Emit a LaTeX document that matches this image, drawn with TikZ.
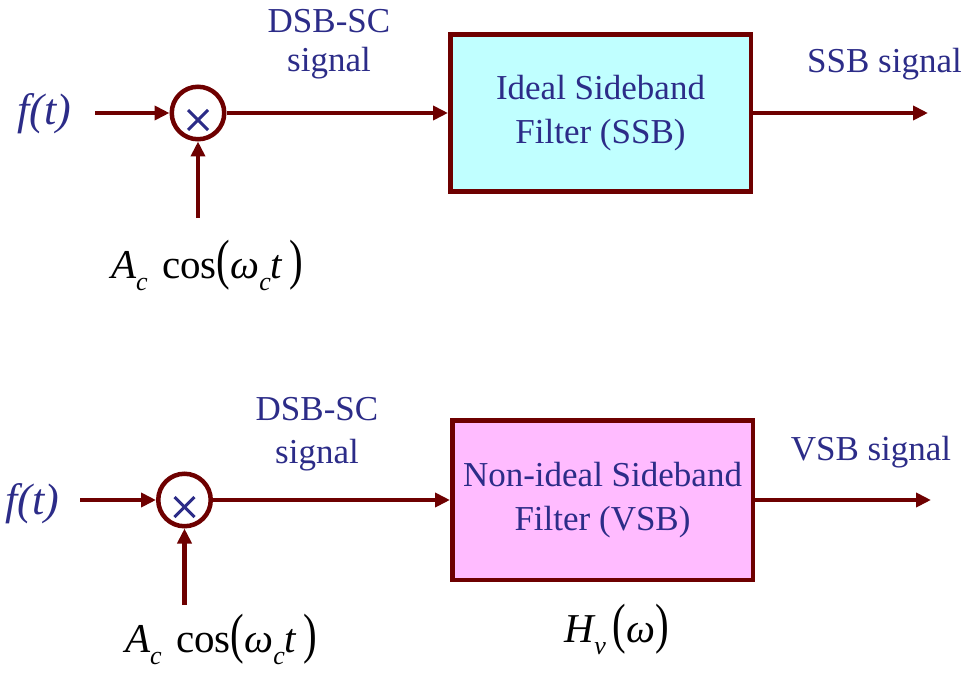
\documentclass[tikz,border=0pt]{standalone}
\usepackage{fontspec}
\setmainfont{Liberation Serif}
\usepackage{graphicx}
\usetikzlibrary{arrows.meta}
\definecolor{txtblue}{RGB}{44,44,136}
\definecolor{linered}{RGB}{110,0,0}
\definecolor{cyanfill}{RGB}{192,255,255}
\definecolor{pinkfill}{RGB}{255,187,255}
\newcommand\msub[1]{\raisebox{-0.3em}{\fontsize{26}{26}\selectfont\itshape #1}}
\newcommand\tallp[1]{\scalebox{1}[1.35]{#1}}
\begin{document}
\begin{tikzpicture}[x=1pt,y=-1pt,
  sig/.style={draw=linered,line width=4.5pt,-{Triangle[length=15pt,width=14pt]}},
  mixer/.style={circle,draw=linered,line width=4.5pt,minimum size=52.5pt,inner sep=0pt,fill=white},
  filterbox/.style={rectangle,draw=linered,line width=4.5pt,minimum width=300.5pt,inner sep=0pt,align=center,
    text=txtblue,font=\fontsize{35}{44}\selectfont},
  lbl/.style={text=txtblue,font=\fontsize{35}{40}\selectfont,inner sep=0pt,anchor=base},
  inlbl/.style={text=txtblue,font=\fontsize{44}{44}\selectfont\itshape,inner sep=0pt,anchor=base},
  mathlbl/.style={text=black,font=\fontsize{41}{41}\selectfont,inner sep=0pt,anchor=base},
  xmark/.style={draw=txtblue,line width=3pt}]
\useasboundingbox (0,0) rectangle (972,682);

% ---------- top row ----------
\node[inlbl] (f1) at (44.5,125) {f(t)};
\coordinate (in1) at (95,113);
\node[mixer] (m1) at (198,113) {};
\draw[xmark] ([shift={(-10,-3)}]m1.center) -- ([shift={(10,17)}]m1.center);
\draw[xmark] ([shift={(-10,17)}]m1.center) -- ([shift={(10,-3)}]m1.center);
\coordinate (c1) at (198,218);
\node[filterbox,fill=cyanfill,minimum height=156.5pt] (b1) at (600.5,113) {Ideal Sideband\\Filter (SSB)};
\coordinate (out1) at (928,113);
\draw[sig] (in1) -- (m1.west);
\draw[sig] (c1) -- (m1.south);
\draw[sig] (m1.east) -- (b1.west);
\draw[sig] (b1.east) -- (out1);
\node[lbl] (d1a) at (329,33) {DSB-SC};
\node[lbl] (d1b) at (329,72) {signal};
\node[lbl] (s1) at (884.5,73) {SSB signal};
\node[mathlbl] (a1) at (207,278) {{\itshape A}\msub{c}\hspace{0.35em}cos\tallp{(}{\itshape ω}\msub{c}{\itshape t}\,\tallp{)}};

% ---------- bottom row ----------
\node[inlbl] (f2) at (32,514) {f(t)};
\coordinate (in2) at (80,500);
\node[mixer] (m2) at (184.5,500) {};
\draw[xmark] ([shift={(-10,-3)}]m2.center) -- ([shift={(10,17)}]m2.center);
\draw[xmark] ([shift={(-10,17)}]m2.center) -- ([shift={(10,-3)}]m2.center);
\coordinate (c2) at (184.5,605);
\node[filterbox,fill=pinkfill,minimum height=159.5pt] (b2) at (602.5,500) {\rule{0pt}{10pt}Non-ideal Sideband\\Filter (VSB)};
\coordinate (out2) at (931,500);
\draw[sig] (in2) -- (m2.west);
\draw[sig] (c2) -- (m2.south);
\draw[sig] (m2.east) -- (b2.west);
\draw[sig] (b2.east) -- (out2);
\node[lbl] (d2a) at (317,420) {DSB-SC};
\node[lbl] (d2b) at (317,463) {signal};
\node[lbl] (s2) at (871,460) {VSB signal};
\node[mathlbl] (a2) at (221,652) {{\itshape A}\msub{c}\hspace{0.35em}cos\tallp{(}{\itshape ω}\msub{c}{\itshape t}\,\tallp{)}};
\node[mathlbl] (h2) at (617,642) {{\itshape H}\msub{v}\,\tallp{(}{\itshape ω}\tallp{)}};
\end{tikzpicture}
\end{document}
